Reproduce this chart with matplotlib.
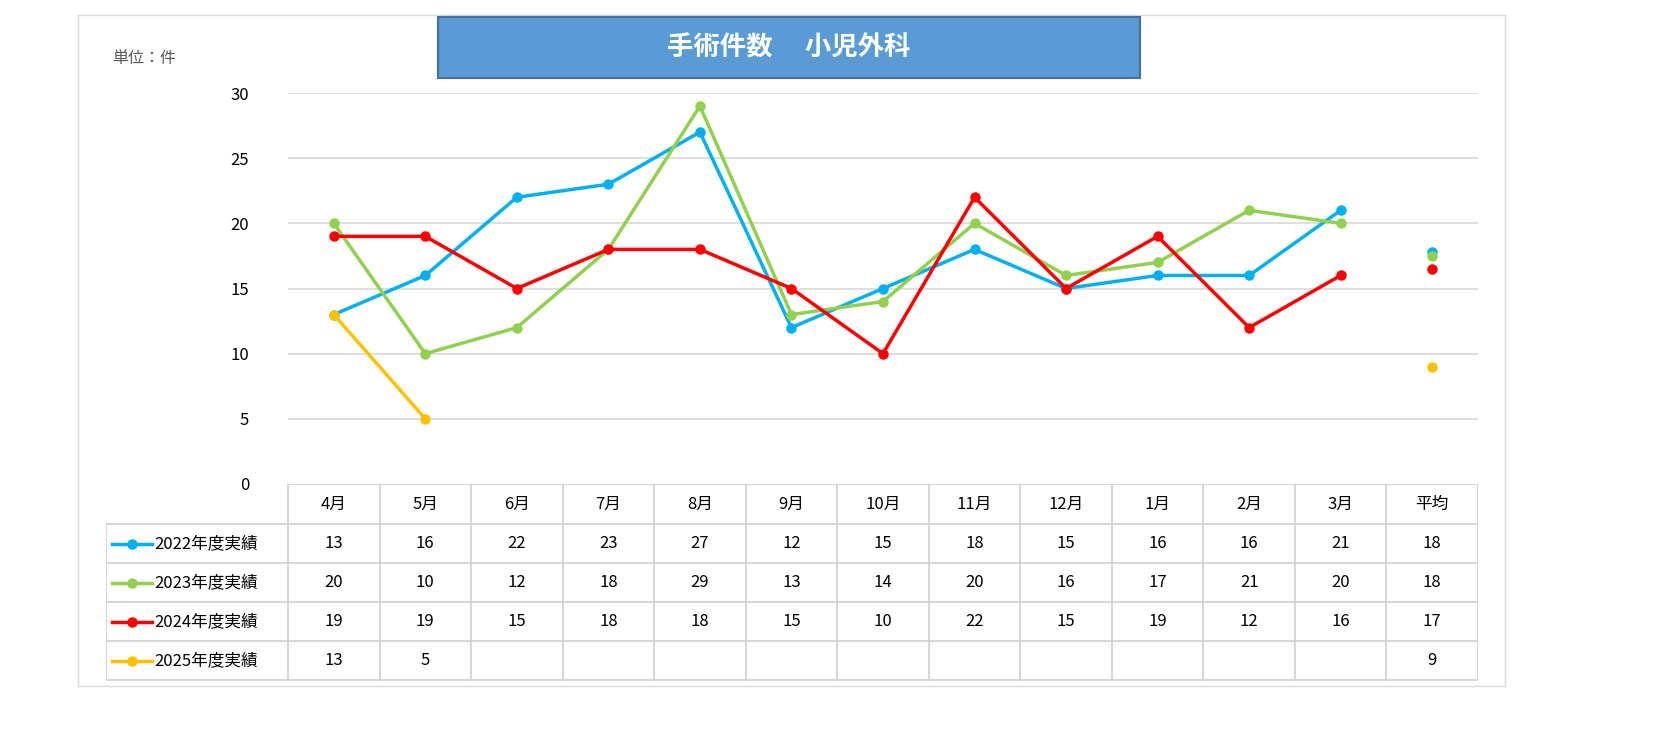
import matplotlib
matplotlib.use("Agg")
import matplotlib.pyplot as plt
from matplotlib.patches import Rectangle
from matplotlib.lines import Line2D

plt.rcParams["font.family"] = "Noto Sans CJK JP"

months = ["4月","5月","6月","7月","8月","9月","10月","11月","12月","1月","2月","3月","平均"]
series_names = ["2022年度実績","2023年度実績","2024年度実績","2025年度実績"]
v2022 = [13,16,22,23,27,12,15,18,15,16,16,21]
v2023 = [20,10,12,18,29,13,14,20,16,17,21,20]
v2024 = [19,19,15,18,18,15,10,22,15,19,12,16]
v2025 = [13,5]
avg = [17.83,17.5,16.5,9]
avg_labels = ["18","18","17","9"]
colors = ["#00B0F0","#92D050","#FF0000","#FFC000"]
series = [v2022,v2023,v2024,v2025]

W,H = 1654,734
fig = plt.figure(figsize=(W/100,H/100),dpi=100)
def fx(x): return x/W
def fy(y): return 1-y/H

# outer border
fig.patches.append(Rectangle((fx(78),fy(686)),fx(1505)-fx(78),fy(15)-fy(686),transform=fig.transFigure,fill=False,ec="#D9D9D9",lw=1))

ax = fig.add_axes([fx(288),fy(484),fx(1478)-fx(288),fy(93)-fy(484)])
ax.set_xlim(0,13); ax.set_ylim(0,30)
for s in ax.spines.values(): s.set_visible(False)
ax.set_yticks(range(0,31,5))
ax.tick_params(axis="y",length=0,labelsize=12,pad=28)
ax.set_xticks([])
for y in range(5,31,5):
    ax.axhline(y,color="#D9D9D9",lw=1.2,zorder=0)
for vals,c,a in zip(series,colors,avg):
    xs=[i+0.5 for i in range(len(vals))]
    ax.plot(xs,vals,color=c,lw=2.5,marker="o",ms=6.5)
    ax.plot([12.5],[a],"o",color=c,ms=6.5)
fig.text(fx(112),fy(58),"単位：件",fontsize=11.5,color="#595959",va="center")

# title
fig.patches.append(Rectangle((fx(438),fy(78)),fx(1140)-fx(438),fy(17)-fy(78),transform=fig.transFigure,fc="#5B9BD5",ec="#41719C",lw=1.5))
fig.text(fx(789),fy(48),"手術件数　 小児外科",fontsize=19,fontweight="bold",color="white",ha="center",va="center")

# table
tx = fig.add_axes([fx(106),fy(682),fx(1478)-fx(106),fy(484)-fy(682)])
tx.set_axis_off()
x0=106; colw=(1478-288)/13
tx.set_xlim(106,1478); tx.set_ylim(682,484)
rows=[484,524,563,602,641,680]
gc="#D0D0D0"
for i in range(14):
    x=288+i*colw
    tx.plot([x,x],[484 if True else 524,680],color=gc,lw=1.2)
tx.plot([106,106],[524,680],color=gc,lw=1.2)
for j,y in enumerate(rows):
    tx.plot([288 if j==0 else 106,1478],[y,y],color=gc,lw=1.2)
for i,m in enumerate(months):
    tx.text(288+(i+0.5)*colw,504,m,ha="center",va="center",fontsize=12)
for r,(name,vals,c,al) in enumerate(zip(series_names,series,colors,avg_labels)):
    yc=(rows[r+1]+rows[r+2])/2
    tx.add_line(Line2D([112,152],[yc,yc],color=c,lw=2.5))
    tx.plot([132],[yc],"o",color=c,ms=6.5)
    tx.text(154,yc,name,ha="left",va="center",fontsize=12)
    for i,v in enumerate(vals):
        tx.text(288+(i+0.5)*colw,yc,str(v),ha="center",va="center",fontsize=12)
    tx.text(288+12.5*colw,yc,al,ha="center",va="center",fontsize=12)

fig.savefig("out.png",dpi=100)
